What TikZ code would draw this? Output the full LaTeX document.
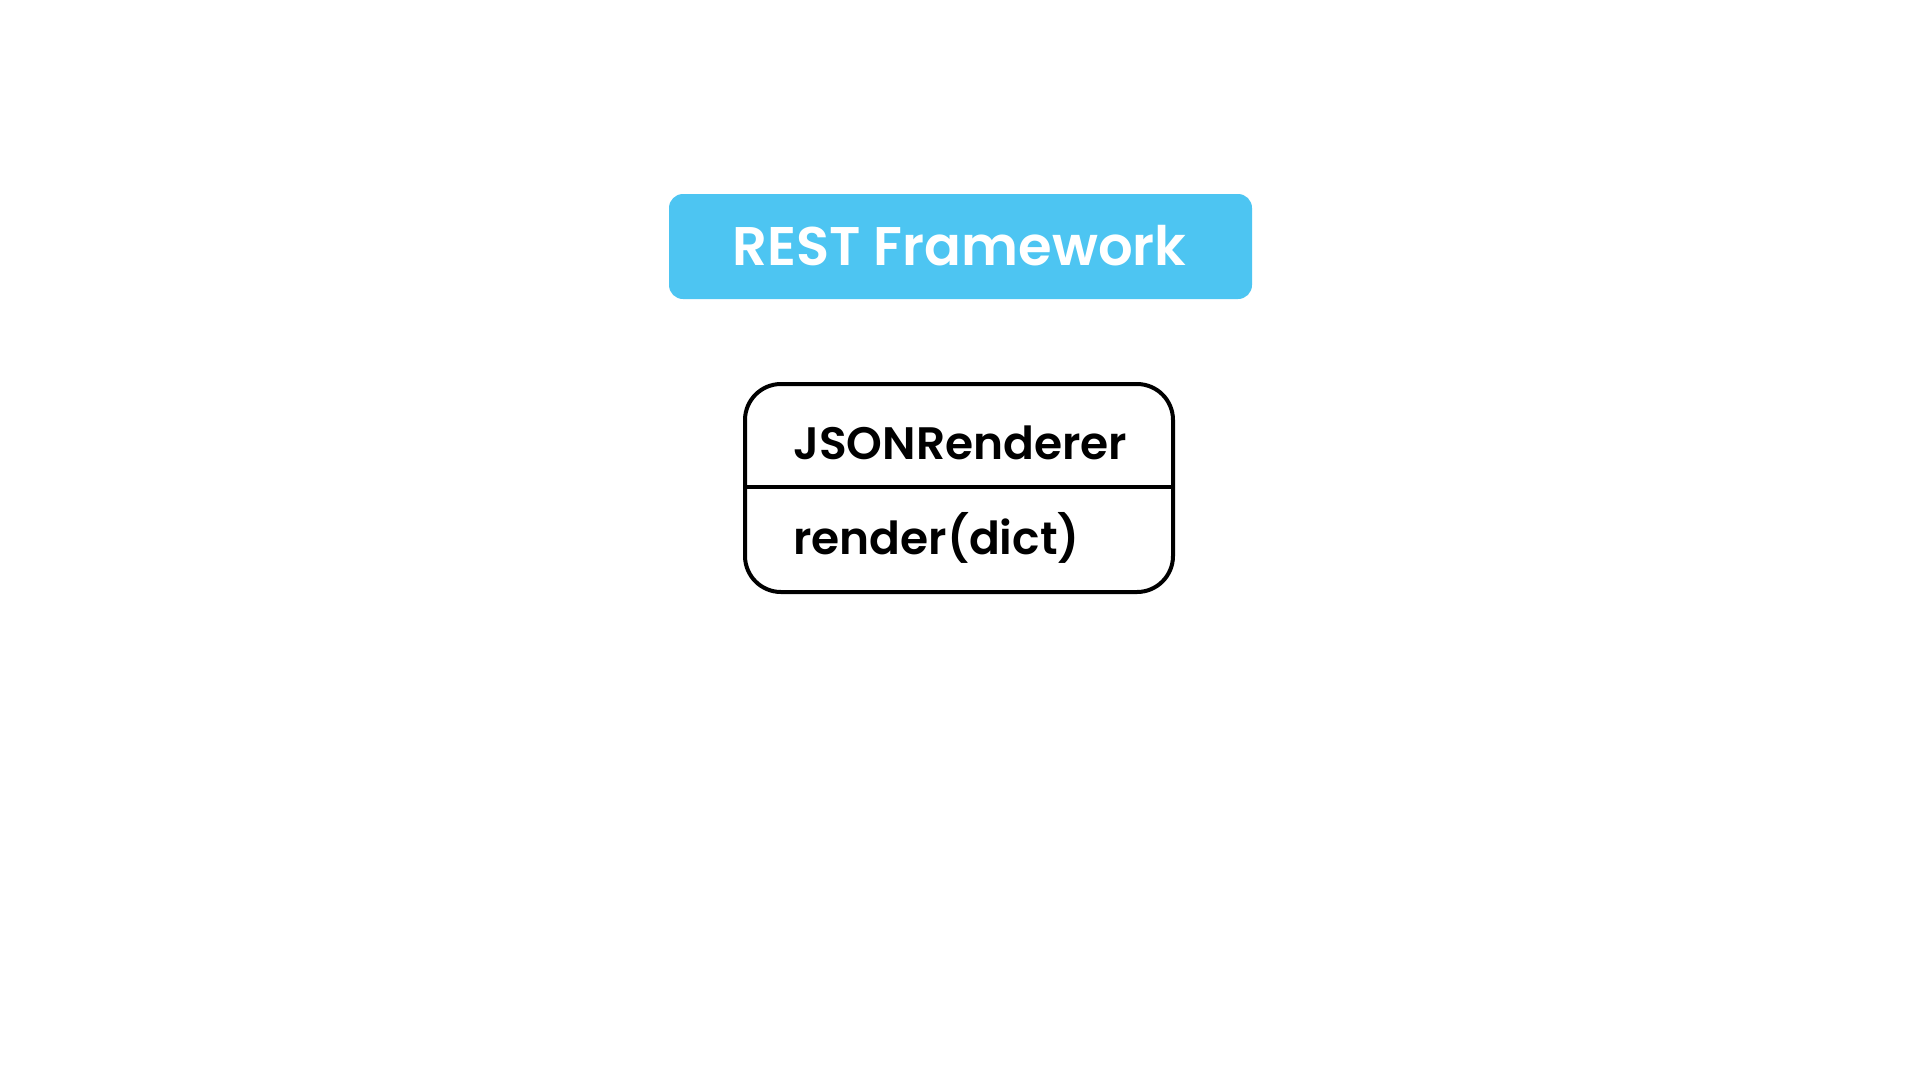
\documentclass[tikz,border=0pt]{standalone}
\usepackage{fontspec}
\setmainfont{Poppins}
\newfontfamily\popsemi{Poppins}[UprightFont=* SemiBold]
\definecolor{skyblue}{HTML}{4DC5F2}
\begin{document}
\begin{tikzpicture}[x=1pt,y=-1pt,
  banner/.style={fill=skyblue, rounded corners=14pt, draw=none,
    minimum width=583pt, minimum height=105pt, inner sep=0pt},
  bannertext/.style={text=white, font=\popsemi\fontsize{54.4}{60}\selectfont, inner sep=0pt, anchor=base},
  classbox/.style={draw=black, line width=4pt, rounded corners=36pt,
    minimum width=428pt, minimum height=208pt, inner sep=0pt},
  member/.style={font=\popsemi\fontsize{45.5}{52}\selectfont, inner sep=0pt, anchor=base west}]
  \useasboundingbox (0,0) rectangle (1920,1080);
  \fill[white] (0,0) rectangle (1920,1080);

  % framework banner
  \node[banner] (fw) at (960.5,246.5) {};
  \node[bannertext] (fwlabel) at (959.5,265) {REST Framework};

  % class box with name and method compartments
  \node[classbox] (cls) at (959,488) {};
  \coordinate (divl) at (745,487);
  \coordinate (divr) at (1173,487);
  \draw[line width=4pt] (divl) -- (divr);
  \node[member] (clsname) at (793,459) {JSONRenderer};
  \node[member] (clsmethod) at (793,554) {render(dict)};
\end{tikzpicture}
\end{document}
